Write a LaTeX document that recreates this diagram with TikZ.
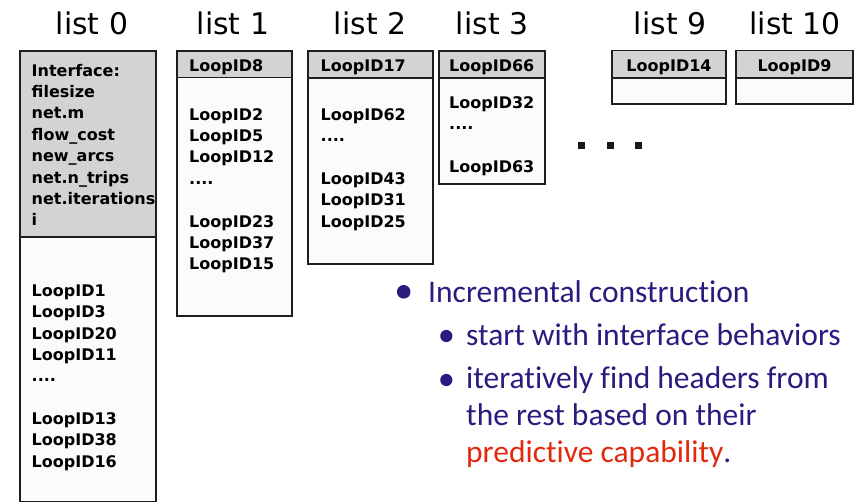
\documentclass[tikz,border=0pt]{standalone}
\usepackage{fontspec}
\setmainfont{DejaVu Sans}
\newfontfamily\bulletfont[Ligatures={NoCommon,NoContextual}]{Carlito}
\definecolor{hdrgray}{HTML}{D1D3D4}
\definecolor{bodyfill}{HTML}{FBFBFB}
\definecolor{boxline}{HTML}{1E1E1E}
\definecolor{txtpurple}{HTML}{2C1B7E}
\definecolor{txtred}{HTML}{E2290E}
\newcommand\fourdots{....}
\begin{document}
\begin{tikzpicture}[x=1pt,y=-1pt,
  boxpart/.style={draw=boxline, line width=1.5pt, anchor=north west, inner sep=0pt, outer sep=0pt},
  hdr/.style={boxpart, fill=hdrgray},
  bdy/.style={boxpart, fill=bodyfill},
  listtitle/.style={font=\fontsize{29.8}{30}\selectfont, anchor=base, inner sep=0pt},
  item/.style={font=\bfseries\fontsize{16}{18}\selectfont, anchor=base west, inner sep=0pt},
  citem/.style={font=\bfseries\fontsize{16}{18}\selectfont, anchor=base, inner sep=0pt},
  btext/.style={font=\bulletfont\fontsize{31.5}{36}\selectfont, text=txtpurple, anchor=base west, inner sep=0pt},
  sqdot/.style={fill=black!90, minimum size=7pt, inner sep=0pt}
]
\useasboundingbox (0,0) rectangle (858,503);

% titles
\node[listtitle] (t0) at (92,35) {list 0};
\node[listtitle] (t1) at (233,35) {list 1};
\node[listtitle] (t2) at (370,35) {list 2};
\node[listtitle] (t3) at (492,35) {list 3};
\node[listtitle] (t9) at (670,35) {list 9};
\node[listtitle] (t10) at (795,35) {list 10};

% list 0
\node[hdr, minimum width=136pt, minimum height=186pt] (h0) at (20,51) {};
\node[bdy, minimum width=136pt, minimum height=264.5pt] (b0) at (20,237) {};
\foreach \k/\t in {0/Interface:,1/filesize,2/net.m,3/flow\_cost,4/new\_arcs,5/net.n\_trips,6/net.iterations,7/i}
  \node[item] (h0l\k) at (31.5,76+21.4*\k) {\t};
\foreach \k/\t in {0/LoopID1,1/LoopID3,2/LoopID20,3/LoopID11,4/\fourdots,6/LoopID13,7/LoopID38,8/LoopID16}
  \node[item] (b0l\k) at (31.5,296.5+21.35*\k) {\t};

% list 1
\node[hdr, minimum width=115pt, minimum height=26.5pt] (h1) at (177,51) {};
\node[bdy, minimum width=115pt, minimum height=238.5pt] (b1) at (177,77.5) {};
\node[item] (h1l) at (189,71) {LoopID8};
\foreach \k/\t in {0/LoopID2,1/LoopID5,2/LoopID12,3/\fourdots,5/LoopID23,6/LoopID37,7/LoopID15}
  \node[item] (b1l\k) at (189,120+21.4*\k) {\t};

% list 2
\node[hdr, minimum width=125pt, minimum height=27pt] (h2) at (308,51) {};
\node[bdy, minimum width=125pt, minimum height=186pt] (b2) at (308,78) {};
\node[item] (h2l) at (320.5,71) {LoopID17};
\foreach \k/\t in {0/LoopID62,1/\fourdots,3/LoopID43,4/LoopID31,5/LoopID25}
  \node[item] (b2l\k) at (320.5,120.5+21.35*\k) {\t};

% list 3
\node[hdr, minimum width=106pt, minimum height=27pt] (h3) at (439,51) {};
\node[bdy, minimum width=106pt, minimum height=106pt] (b3) at (439,78) {};
\node[item] (h3l) at (449,71) {LoopID66};
\foreach \k/\t in {0/LoopID32,1/\fourdots,3/LoopID63}
  \node[item] (b3l\k) at (449,108.5+21.35*\k) {\t};

% list 9
\node[hdr, minimum width=114pt, minimum height=27.5pt] (h9) at (612,50.5) {};
\node[bdy, minimum width=114pt, minimum height=26pt] (b9) at (612,78) {};
\node[citem] (h9l) at (669,71) {LoopID14};

% list 10
\node[hdr, minimum width=117pt, minimum height=27.5pt] (h10) at (736,50.5) {};
\node[bdy, minimum width=117pt, minimum height=26pt] (b10) at (736,78) {};
\node[citem] (h10l) at (794.5,71) {LoopID9};

% ellipsis squares
\node[sqdot] (sq1) at (581.5,145.5) {};
\node[sqdot] (sq2) at (610,145.5) {};
\node[sqdot] (sq3) at (638,145.5) {};

% bullets
\coordinate (d1) at (403.7,291.8);
\coordinate (d2) at (446.3,336);
\coordinate (d3) at (446.3,380);
\fill[txtpurple] (d1) circle[radius=6.8pt];
\fill[txtpurple] (d2) circle[radius=6.1pt];
\fill[txtpurple] (d3) circle[radius=6.1pt];
\node[btext] (p1) at (428,302) {Incremental construction};
\node[btext] (p2) at (466,345) {start with interface behaviors};
\node[btext] (p3a) at (466,388) {iteratively find headers from};
\node[btext] (p3b) at (466,425.5) {the rest based on their};
\node[btext] (p3c) at (466,462) {{\color{txtred}predictive capability}.};
\end{tikzpicture}
\end{document}
